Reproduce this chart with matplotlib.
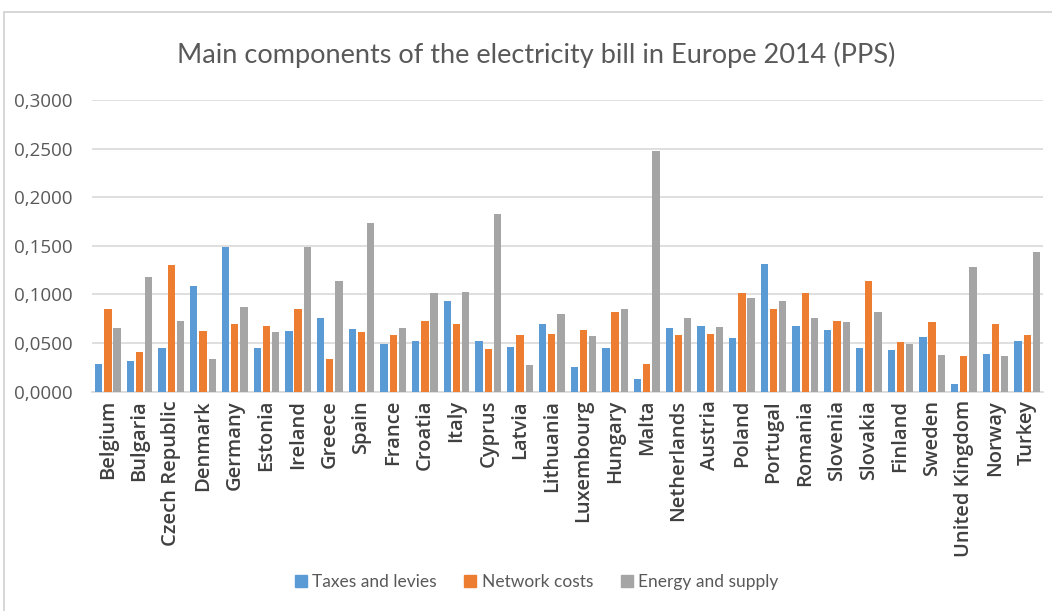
"""Main components of the electricity bill in Europe 2014 (PPS) - grouped bars."""

import matplotlib
matplotlib.use("Agg")
import matplotlib.pyplot as plt
import matplotlib.patches as mpatches
import numpy as np

countries = [
    "Belgium", "Bulgaria", "Czech Republic", "Denmark", "Germany", "Estonia",
    "Ireland", "Greece", "Spain", "France", "Croatia", "Italy", "Cyprus",
    "Latvia", "Lithuania", "Luxembourg", "Hungary", "Malta", "Netherlands",
    "Austria", "Poland", "Portugal", "Romania", "Slovenia", "Slovakia",
    "Finland", "Sweden", "United Kingdom", "Norway", "Turkey",
]

taxes = [
    0.0285, 0.0319, 0.0450, 0.1087, 0.1490, 0.0450, 0.0628, 0.0754, 0.0641,
    0.0487, 0.0518, 0.0933, 0.0518, 0.0460, 0.0696, 0.0250, 0.0450, 0.0130,
    0.0650, 0.0672, 0.0556, 0.1310, 0.0672, 0.0638, 0.0450, 0.0425, 0.0566,
    0.0075, 0.0390, 0.0518,
]
network = [
    0.0850, 0.0410, 0.1300, 0.0628, 0.0696, 0.0680, 0.0850, 0.0333, 0.0614,
    0.0580, 0.0730, 0.0696, 0.0436, 0.0580, 0.0590, 0.0638, 0.0816, 0.0285,
    0.0580, 0.0590, 0.1015, 0.0850, 0.1015, 0.0730, 0.1135, 0.0508, 0.0720,
    0.0367, 0.0696, 0.0580,
]
energy = [
    0.0650, 0.1180, 0.0730, 0.0333, 0.0875, 0.0614, 0.1490, 0.1135, 0.1730,
    0.0650, 0.1015, 0.1029, 0.1828, 0.0271, 0.0800, 0.0576, 0.0850, 0.2476,
    0.0754, 0.0662, 0.0967, 0.0933, 0.0754, 0.0720, 0.0816, 0.0494, 0.0377,
    0.1286, 0.0367, 0.1437,
]

series = ["Taxes and levies", "Network costs", "Energy and supply"]
colors = ["#5b9bd5", "#ed7d31", "#a5a5a5"]
yticks = [0.0, 0.05, 0.10, 0.15, 0.20, 0.25, 0.30]

plt.rcParams["font.family"] = ["Lato", "DejaVu Sans"]

fig = plt.figure(figsize=(10.52, 6.11), dpi=100)
fig.patches.append(mpatches.Rectangle((0.004, -0.01), 1.0, 0.99, transform=fig.transFigure,
                                      fill=False, edgecolor="#d0d0d0", linewidth=1.2))
ax = fig.add_axes([0.0875, 0.359, 0.904, 0.4773])

x = np.arange(len(countries))
width = 0.23
step = 0.29
for i, (vals, lab, col) in enumerate(zip([taxes, network, energy], series, colors)):
    ax.bar(x + (i - 1) * step, vals, width=width, color=col, label=lab, zorder=3)

ax.set_xlim(-0.5, len(countries) - 0.5)
ax.set_ylim(0, 0.3)
ax.set_yticks(yticks)
ax.set_yticklabels([f"{v:.4f}".replace(".", ",") for v in yticks],
                   fontsize=13.5, color="#595959", family=["Open Sans", "DejaVu Sans"])
ax.set_xticks(x)
ax.set_xticklabels(countries, rotation=90, fontsize=14.5, color="#404040", fontweight=600,
                   family=["Open Sans", "DejaVu Sans"])
ax.tick_params(axis="both", length=0)
ax.tick_params(axis="y", pad=14)
ax.tick_params(axis="x", pad=6)
ax.grid(axis="y", color="#d9d9d9", linewidth=1.2, zorder=0)
for s in ["top", "right", "left"]:
    ax.spines[s].set_visible(False)
ax.spines["bottom"].set_color("#d9d9d9")
ax.spines["bottom"].set_linewidth(1.2)

fig.text(0.51, 0.91, "Main components of the electricity bill in Europe 2014 (PPS)",
         ha="center", va="center", fontsize=19.5, color="#595959")

handles = [mpatches.Patch(color=c) for c in colors]
fig.legend(handles, series, loc="center", bbox_to_anchor=(0.51, 0.048), ncol=3,
           frameon=False, fontsize=12.5, handlelength=0.7, handleheight=0.7,
           handletextpad=0.3, columnspacing=1.6, labelcolor="#595959")

fig.savefig("out.png", dpi=100)
